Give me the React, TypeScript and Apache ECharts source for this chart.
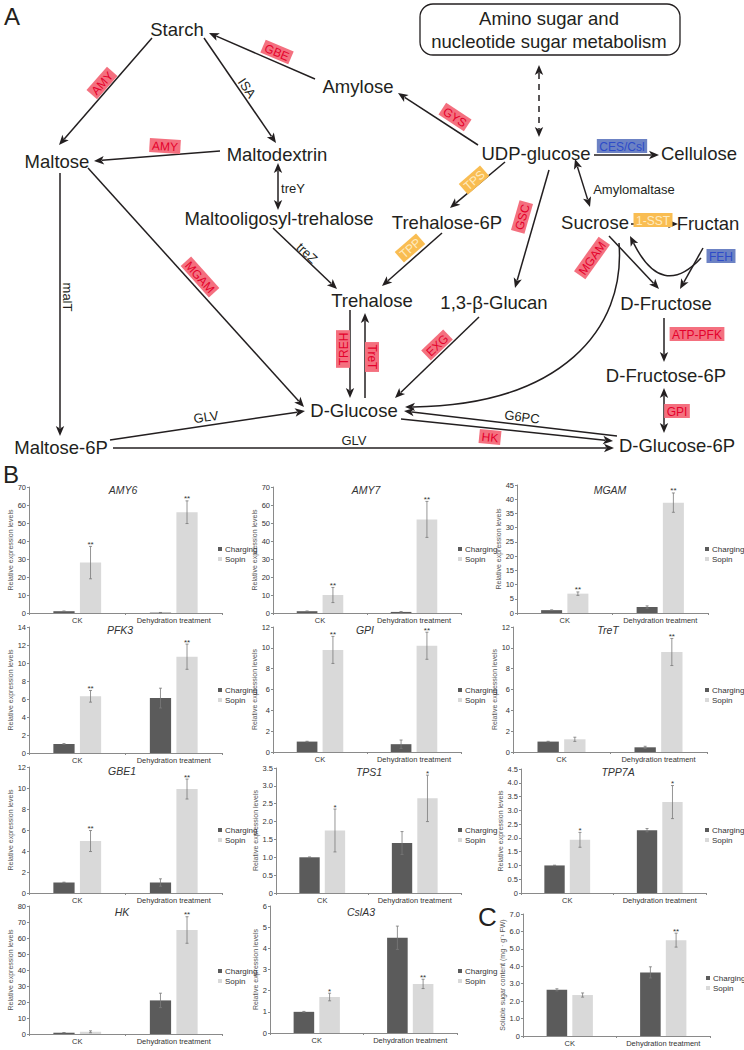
import React, { useEffect, useRef } from 'react';
import * as echarts from 'echarts';

const FONT = '"Liberation Sans", Arial, Helvetica, sans-serif';
const INK = '#231F20';

// ---------------- chart data ----------------
const categories = ['CK', 'Dehydration treatment'];
const groupNames = ['Charging', 'Sopin'];
const groupColors = ['#5b5b5b', '#d9d9d9'];
const panelTitles = ['AMY6', 'AMY7', 'MGAM', 'PFK3', 'GPI', 'TreT', 'GBE1', 'TPS1', 'TPP7A', 'HK', 'CslA3', ''];
const REL = 'Relative expression levels';
const yAxisNames = [REL, REL, REL, REL, REL, REL, REL, REL, REL, REL, REL, 'Soluble sugar content (mg · g⁻¹ FW)'];
const yMax = [70, 70, 45, 14, 12, 12, 12, 3.5, 4.5, 80, 6, 7];
const yStep = [10, 10, 5, 2, 2, 2, 2, 0.5, 0.5, 10, 1, 1];
const yDecimals = [0, 0, 0, 0, 0, 0, 0, 1, 1, 0, 0, 1];

const chargingMean = [
  [1.0, 0.2], [1.0, 0.6], [1.0, 2.1], [1.0, 6.1], [1.0, 0.75], [1.0, 0.45],
  [1.0, 1.0], [1.0, 1.4], [1.0, 2.28], [0.8, 21], [1.0, 4.5], [2.65, 3.65],
];
const chargingErr = [
  [0.1, 0.1], [0.1, 0.2], [0.1, 0.4], [0.05, 1.1], [0.03, 0.4], [0.03, 0.1],
  [0.03, 0.35], [0.01, 0.32], [0.01, 0.06], [0.1, 4.5], [0.02, 0.55], [0.06, 0.32],
];
const sopinMean = [
  [28, 56], [10, 52], [6.8, 38.8], [6.3, 10.7], [9.8, 10.2], [1.22, 9.6],
  [4.95, 9.9], [1.75, 2.65], [1.93, 3.3], [1.4, 65], [1.7, 2.32], [2.35, 5.5],
];
const sopinErr = [
  [9, 6.3], [4.2, 10], [0.6, 3.4], [0.65, 1.4], [1.3, 1.3], [0.2, 1.3],
  [1.0, 0.95], [0.6, 0.65], [0.27, 0.6], [0.6, 8.3], [0.18, 0.22], [0.12, 0.4],
];
const sopinStars = [
  ['**', '**'], ['**', '**'], ['**', '**'], ['**', '**'], ['**', '**'], ['', '**'],
  ['**', '**'], ['*', '*'], ['*', '*'], ['', '**'], ['*', '**'], ['', '**'],
];
const chargingStars = [
  ['', ''], ['', ''], ['', ''], ['', ''], ['', ''], ['', ''],
  ['', ''], ['', ''], ['', ''], ['', ''], ['', ''], ['', ''],
];

// ---------------- layout (positions only) ----------------
// [left, top, width, height]
const gridBoxes = [
  [29, 487, 193, 126], [273, 487, 188, 126], [517, 485, 191, 128],
  [29, 627, 193, 126], [273, 627, 188, 125], [513, 627, 194, 125],
  [29, 767, 193, 126], [276, 768, 185, 125], [521, 769, 185, 124],
  [29, 906, 193, 128], [270, 906, 187, 127], [523, 914, 187, 122],
];
const titleCenters = [
  [123, 490], [366, 490], [610, 490],
  [120, 630], [365, 630], [608, 630],
  [122, 771], [369, 772], [618, 772],
  [122, 912], [361, 912], [0, 0],
];
const legendPos = [
  [218, 545], [458, 545], [705, 545],
  [218, 686], [458, 686], [705, 686],
  [218, 826], [458, 826], [705, 826],
  [218, 967], [458, 967], [706, 974],
];
const nameGaps = [15, 12, 13, 15, 12, 11, 15, 13, 15, 15, 11, 17];

// ---------------- pathway diagram (positions) ----------------
const nodeLabels: [string, number, number][] = [
  ['Starch', 177, 29], ['Amylose', 358, 86], ['Maltose', 57, 161], ['Maltodextrin', 277, 154],
  ['Maltooligosyl-trehalose', 279, 218], ['UDP-glucose', 536, 153], ['Cellulose', 699, 153],
  ['Trehalose-6P', 447, 222], ['Sucrose', 595, 222], ['Fructan', 708, 223],
  ['Trehalose', 372, 300], ['1,3-β-Glucan', 494, 302], ['D-Fructose', 666, 303],
  ['D-Fructose-6P', 666, 375], ['D-Glucose', 354, 410], ['Maltose-6P', 61, 447],
  ['D-Glucose-6P', 677, 445],
];
const smallLabels: [string, number, number, number][] = [
  ['ISA', 247, 88, -0.97], ['treY', 293, 188, 0], ['treZ', 307, 253, -0.77],
  ['malT', 67, 297, -Math.PI / 2], ['GLV', 206, 417, 0.15], ['GLV', 354, 440, 0],
  ['G6PC', 522, 417, -0.12], ['Amylomaltase', 634, 189, 0],
];
const tags: [string, number, number, number, string][] = [
  ['GBE', 277, 52, -0.4, 'r'], ['AMY', 102, 83, 0.85, 'r'], ['AMY', 165, 146, -0.06, 'r'],
  ['MGAM', 200, 277, -0.84, 'r'], ['GYS', 455, 117, -0.58, 'r'], ['TPS', 474, 180, 0.72, 'y'],
  ['TPP', 410, 248, 0.72, 'y'], ['GSC', 522, 217, 1.29, 'r'], ['CES/Csl', 622, 146, 0, 'b'],
  ['1-SST', 653, 220, 0, 'y'], ['FEH', 721, 256, 0, 'b'], ['MGAM', 592, 258, 0.95, 'r'],
  ['TREH', 343, 349, Math.PI / 2, 'r'], ['TreT', 372, 357, -Math.PI / 2, 'r'],
  ['EXG', 437, 345, 0.76, 'r'], ['ATP-PFK', 697, 334, 0, 'r'], ['GPI', 677, 411, 0, 'r'],
  ['HK', 490, 437, -0.1, 'r'],
];
// x1, y1, x2, y2, kind (0 single, 1 double, 2 dashed double)
const arrows: number[][] = [
  [152, 38, 59, 145, 0], [204, 38, 276, 143, 0], [315, 79, 209, 33, 0],
  [220, 151, 94, 161, 0], [278, 163, 278, 210, 1], [273, 228, 337, 289, 0],
  [88, 168, 304, 407, 0], [60, 173, 60, 436, 0], [478, 145, 398, 93, 0],
  [539, 65, 539, 137, 2], [505, 162, 450, 208, 0], [442, 233, 382, 286, 0],
  [549, 170, 515, 288, 0], [594, 155, 659, 155, 0], [575, 159, 590, 207, 1],
  [631, 224, 678, 224, 0], [703, 248, 680, 289, 0], [609, 236, 659, 289, 0],
  [479, 317, 395, 398, 0], [350, 310, 350, 398, 0], [365, 398, 365, 313, 0],
  [664, 318, 664, 362, 0], [664, 388, 664, 433, 1], [110, 440, 305, 411, 0],
  [113, 448, 614, 448, 0], [401, 419, 613, 441, 0], [617, 436, 404, 411, 0],
];

const tagColors: Record<string, [string, string]> = {
  r: ['#F4707F', '#E4002B'],
  y: ['#F9BD52', '#FFEBC0'],
  b: ['#6C82C4', '#2D4BC8'],
};

let measureCtx: CanvasRenderingContext2D | null = null;
function measure(text: string, font: string) {
  if (!measureCtx) measureCtx = document.createElement('canvas').getContext('2d');
  if (!measureCtx) return text.length * 7;
  measureCtx.font = font;
  return measureCtx.measureText(text).width;
}

function textEl(text: string, x: number, y: number, size: number, opts: any = {}) {
  return {
    type: 'text',
    x,
    y,
    rotation: opts.rotation || 0,
    silent: true,
    style: {
      text,
      x: 0,
      y: 0,
      fill: opts.fill || INK,
      font: `${opts.style || 'normal'} ${size}px ${FONT}`,
      align: opts.align || 'center',
      verticalAlign: 'middle',
      textAlign: opts.align || 'center',
      textVerticalAlign: 'middle',
    },
  };
}

function headEl(tx: number, ty: number, ux: number, uy: number) {
  const H = 10, W = 4.2;
  const bx = tx - ux * H, by = ty - uy * H;
  return {
    type: 'polygon',
    silent: true,
    shape: { points: [[tx, ty], [bx - uy * W, by + ux * W], [bx + ux * 2.5, by + uy * 2.5], [bx + uy * W, by - ux * W]] },
    style: { fill: INK },
  };
}

function arrowEls(a: number[]) {
  const [x1, y1, x2, y2, kind] = a;
  const dx = x2 - x1, dy = y2 - y1;
  const L = Math.hypot(dx, dy);
  const ux = dx / L, uy = dy / L;
  const both = kind >= 1;
  const sx = both ? x1 + ux * 8 : x1, sy = both ? y1 + uy * 8 : y1;
  const els: any[] = [
    {
      type: 'line', silent: true,
      shape: { x1: sx, y1: sy, x2: x2 - ux * 8, y2: y2 - uy * 8 },
      style: { stroke: INK, lineWidth: 1.5, lineDash: kind === 2 ? [6, 5] : null },
    },
    headEl(x2, y2, ux, uy),
  ];
  if (both) els.push(headEl(x1, y1, -ux, -uy));
  return els;
}

function tagEl(t: [string, number, number, number, string]) {
  const [text, x, y, rot, c] = t;
  const font = `normal 12px ${FONT}`;
  const w = measure(text, font) + 5;
  const h = 14;
  const [bg, fg] = tagColors[c];
  return {
    type: 'group', x, y, rotation: rot, silent: true,
    children: [
      { type: 'rect', shape: { x: -w / 2, y: -h / 2, width: w, height: h }, style: { fill: bg } },
      textEl(text, 0, 0.5, 12, { fill: fg }),
    ],
  };
}

function buildDiagram() {
  const els: any[] = [];
  els.push({
    type: 'rect', silent: true,
    shape: { x: 420, y: 4, width: 260, height: 51, r: 13 },
    style: { fill: 'none', stroke: INK, lineWidth: 1.3 },
  });
  els.push(textEl('Amino sugar and', 549, 18, 18.5));
  els.push(textEl('nucleotide sugar metabolism', 549, 41, 18.5));
  arrows.forEach((a) => els.push(...arrowEls(a)));
  // FEH: Fructan -> Sucrose
  {
    const sx = 701, sy = 258, cx = 662, cy = 300, ex = 630, ey = 236;
    const dx = ex - cx, dy = ey - cy, L = Math.hypot(dx, dy);
    const ux = dx / L, uy = dy / L;
    els.push({
      type: 'bezierCurve', silent: true,
      shape: { x1: sx, y1: sy, x2: ex - ux * 8, y2: ey - uy * 8, cpx1: cx, cpy1: cy },
      style: { stroke: INK, lineWidth: 1.5, fill: 'none' },
    });
    els.push(headEl(ex, ey, ux, uy));
  }
  // Sucrose -> D-Glucose big curve
  {
    const sx = 619, sy = 243, c1x = 626, c1y = 330, c2x = 560, c2y = 405, ex = 405, ey = 407;
    const dx = ex - c2x, dy = ey - c2y, L = Math.hypot(dx, dy);
    const ux = dx / L, uy = dy / L;
    els.push({
      type: 'bezierCurve', silent: true,
      shape: { x1: sx, y1: sy, x2: ex - ux * 8, y2: ey - uy * 8, cpx1: c1x, cpy1: c1y, cpx2: c2x, cpy2: c2y },
      style: { stroke: INK, lineWidth: 1.5, fill: 'none' },
    });
    els.push(headEl(ex, ey, ux, uy));
  }
  nodeLabels.forEach(([t, x, y]) => els.push(textEl(t, x, y, 18.5)));
  smallLabels.forEach(([t, x, y, r]) => els.push(textEl(t, x, y, 13, { rotation: r })));
  tags.forEach((t) => els.push(tagEl(t)));
  els.push(textEl('A', 4, 16, 24, { align: 'left' }));
  els.push(textEl('B', 3, 474, 24, { align: 'left' }));
  els.push(textEl('C', 478, 917, 26, { align: 'left' }));
  panelTitles.forEach((t, i) => {
    if (!t) return;
    const [x, y] = titleCenters[i];
    els.push(textEl(t, x, y, 10.5, { style: 'italic', fill: '#333' }));
  });
  return els;
}

function makeErrRender(group: number, stars: string[]) {
  return (params: any, api: any) => {
    const k = api.value(0);
    const m = api.value(1);
    const e = api.value(2);
    const catW = api.size([1, 0])[0];
    const off = (group === 0 ? -1 : 1) * 0.1375 * catW;
    const pTop = api.coord([k, m + e]);
    const pBot = api.coord([k, Math.max(0, m - e)]);
    const cx = pTop[0] + off;
    const st = { stroke: '#7a7a7a', lineWidth: 0.8 };
    const children: any[] = [
      { type: 'line', shape: { x1: cx, y1: pTop[1], x2: cx, y2: pBot[1] }, style: st },
      { type: 'line', shape: { x1: cx - 1.5, y1: pTop[1], x2: cx + 1.5, y2: pTop[1] }, style: st },
      { type: 'line', shape: { x1: cx - 1.5, y1: pBot[1], x2: cx + 1.5, y2: pBot[1] }, style: st },
    ];
    const s = stars[params.dataIndex];
    if (s) {
      children.push({
        type: 'text', x: cx, y: pTop[1] - 2,
        style: {
          text: s, x: 0, y: 0, fill: '#333', font: `normal 8px ${FONT}`, lineHeight: 5,
          align: 'center', verticalAlign: 'middle', textAlign: 'center', textVerticalAlign: 'middle',
        },
      });
    }
    return { type: 'group', children };
  };
}

function buildOption() {
  const grids: any[] = [];
  const xAxes: any[] = [];
  const yAxes: any[] = [];
  const series: any[] = [];
  const legends: any[] = [];
  const axisColor = '#8a8a8a';
  panelTitles.forEach((_, i) => {
    const [l, t, w, h] = gridBoxes[i];
    grids.push({ left: l, top: t, width: w, height: h, containLabel: false });
    xAxes.push({
      type: 'category', gridIndex: i, data: categories,
      axisLine: { lineStyle: { color: axisColor, width: 1 } },
      axisTick: { show: true, length: 2, lineStyle: { color: axisColor } },
      axisLabel: { fontSize: 7.5, color: '#333', margin: 3, fontFamily: FONT, interval: 0, hideOverlap: false },
    });
    const dec = yDecimals[i];
    yAxes.push({
      type: 'value', gridIndex: i, min: 0, max: yMax[i], interval: yStep[i],
      axisLine: { show: true, lineStyle: { color: axisColor, width: 1 } },
      axisTick: { show: true, length: 2, lineStyle: { color: axisColor } },
      splitLine: { show: false },
      axisLabel: {
        fontSize: 7.5, color: '#333', margin: 3, fontFamily: FONT,
        formatter: (v: number) => (v === 0 ? '0' : v.toFixed(dec)),
      },
      name: yAxisNames[i], nameLocation: 'middle', nameGap: nameGaps[i],
      nameTextStyle: { fontSize: 7, color: '#555', fontFamily: FONT },
    });
    const means = [chargingMean[i], sopinMean[i]];
    const errs = [chargingErr[i], sopinErr[i]];
    const stars = [chargingStars[i], sopinStars[i]];
    [0, 1].forEach((g) => {
      series.push({
        type: 'bar', name: groupNames[g], xAxisIndex: i, yAxisIndex: i,
        data: means[g], barWidth: '22%', barGap: '25%',
        itemStyle: { color: groupColors[g] }, silent: true,
      });
    });
    [0, 1].forEach((g) => {
      series.push({
        type: 'custom', name: `err-${i}-${g}`, xAxisIndex: i, yAxisIndex: i,
        data: means[g].map((m, k) => [k, m, errs[g][k]]),
        renderItem: makeErrRender(g, stars[g]), z: 5, silent: true,
      });
    });
    legends.push({
      data: groupNames, left: legendPos[i][0], top: legendPos[i][1], orient: 'vertical',
      itemWidth: 4, itemHeight: 4, itemGap: 2, icon: 'rect', selectedMode: false, padding: 0,
      textStyle: { fontSize: 8, color: '#333', fontFamily: FONT, padding: [0, 0, 0, -2] },
    });
  });
  return {
    animation: false,
    backgroundColor: '#ffffff',
    textStyle: { fontFamily: FONT },
    grid: grids,
    xAxis: xAxes,
    yAxis: yAxes,
    series,
    legend: legends,
    graphic: { elements: buildDiagram() },
  };
}

export default function App() {
  const ref = useRef<HTMLDivElement>(null);
  useEffect(() => {
    if (!ref.current) return;
    const chart = echarts.init(ref.current, undefined, { renderer: 'svg' });
    chart.setOption(buildOption() as any);
    return () => chart.dispose();
  }, []);
  return (
    <div
      ref={ref}
      style={{ position: 'absolute', left: 0, top: 0, width: 744, height: 1050, background: '#fff' }}
    />
  );
}
